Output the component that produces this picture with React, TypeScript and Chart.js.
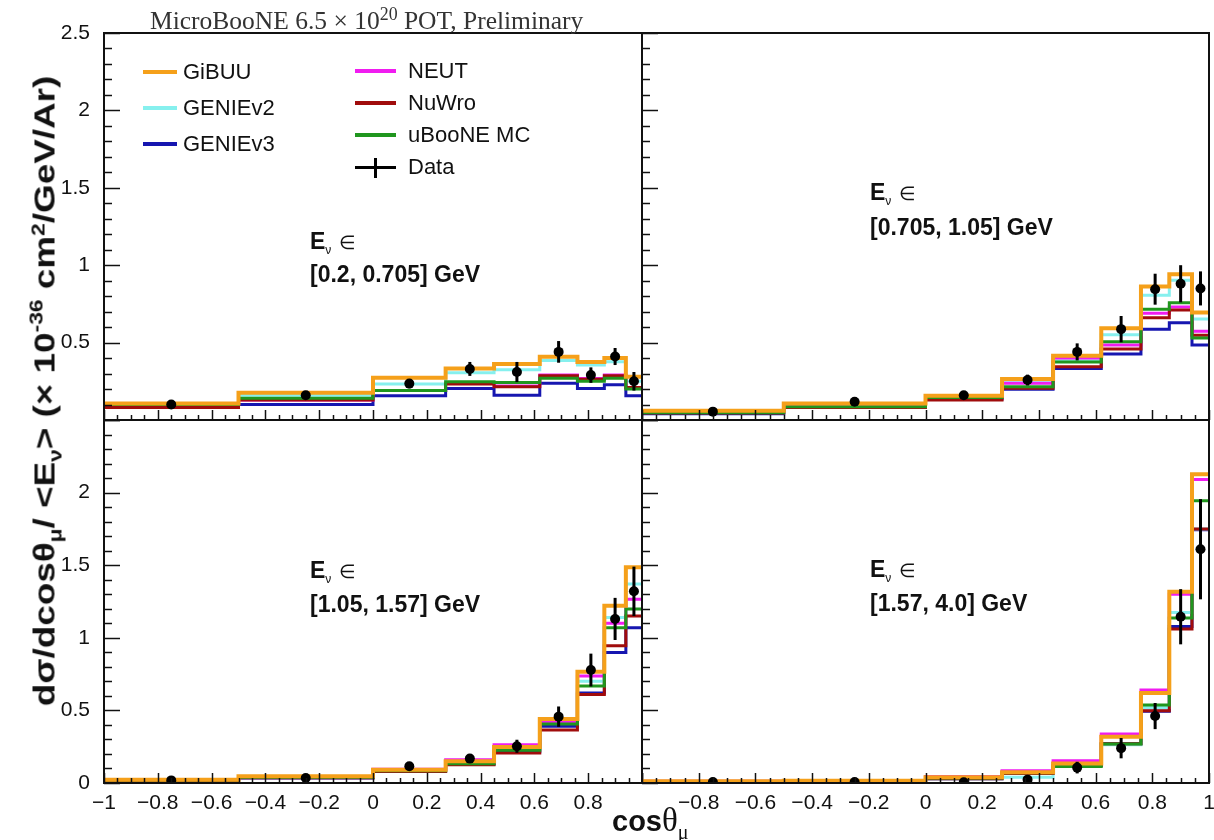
import React, { useEffect, useRef } from 'react';
import { Chart, registerables } from 'chart.js';

Chart.register(...registerables);

// ---------------- data ----------------
const binEdges = [-1, -0.5, 0, 0.27, 0.45, 0.62, 0.76, 0.86, 0.94, 1];
const binCenters = [-0.75, -0.25, 0.135, 0.36, 0.535, 0.69, 0.81, 0.9, 0.97];

const modelNames = ['GiBUU', 'GENIEv2', 'GENIEv3', 'NEUT', 'NuWro', 'uBooNE MC'];
const modelColors = ['#f5a01a', '#86f0ee', '#1616b0', '#f01cf0', '#a00c0c', '#20961e'];

const xTickLabels = ['\u22121', '\u22120.8', '\u22120.6', '\u22120.4', '\u22120.2', '0', '0.2', '0.4', '0.6', '0.8', '1'];
const yTickLabels = ['0', '0.5', '1', '1.5', '2', '2.5'];

// Panel 1: E in [0.2, 0.705] GeV
const gibuu1 = [0.107, 0.176, 0.273, 0.333, 0.361, 0.408, 0.375, 0.4, 0.28];
const genie2_1 = [0.095, 0.16, 0.232, 0.305, 0.325, 0.385, 0.355, 0.376, 0.25];
const genie3_1 = [0.085, 0.1, 0.157, 0.204, 0.16, 0.238, 0.203, 0.228, 0.157];
const neut1 = [0.08, 0.13, 0.19, 0.235, 0.22, 0.29, 0.268, 0.29, 0.205];
const nuwro1 = [0.08, 0.13, 0.19, 0.232, 0.215, 0.286, 0.264, 0.286, 0.21];
const uboone1 = [0.1, 0.14, 0.19, 0.247, 0.243, 0.27, 0.25, 0.27, 0.2];
const data1 = [0.1, 0.16, 0.235, 0.33, 0.31, 0.44, 0.29, 0.41, 0.25];
const err1 = [0.012, 0.015, 0.03, 0.045, 0.065, 0.07, 0.05, 0.055, 0.06];

// Panel 2: E in [0.705, 1.05] GeV
const gibuu2 = [0.06, 0.107, 0.157, 0.265, 0.415, 0.592, 0.862, 0.942, 0.695];
const genie2_2 = [0.05, 0.09, 0.15, 0.24, 0.383, 0.55, 0.806, 0.903, 0.652];
const genie3_2 = [0.04, 0.08, 0.135, 0.198, 0.333, 0.426, 0.587, 0.628, 0.484];
const neut2 = [0.05, 0.085, 0.14, 0.237, 0.4, 0.484, 0.69, 0.73, 0.574];
const nuwro2 = [0.045, 0.08, 0.13, 0.205, 0.344, 0.458, 0.66, 0.71, 0.548];
const uboone2 = [0.047, 0.085, 0.146, 0.215, 0.374, 0.505, 0.715, 0.757, 0.53];
const data2 = [0.054, 0.118, 0.16, 0.258, 0.44, 0.587, 0.845, 0.88, 0.85];
const err2 = [0.008, 0.012, 0.02, 0.035, 0.055, 0.085, 0.1, 0.12, 0.11];

// Panel 3: E in [1.05, 1.57] GeV
const gibuu3 = [0.023, 0.046, 0.092, 0.15, 0.248, 0.44, 0.766, 1.22, 1.486];
const genie2_3 = [0.02, 0.04, 0.085, 0.14, 0.235, 0.425, 0.7, 1.14, 1.37];
const genie3_3 = [0.018, 0.035, 0.08, 0.13, 0.215, 0.39, 0.62, 0.898, 1.069];
const neut3 = [0.022, 0.045, 0.095, 0.16, 0.264, 0.42, 0.737, 1.1, 1.265];
const nuwro3 = [0.018, 0.036, 0.08, 0.125, 0.207, 0.365, 0.61, 0.945, 1.15];
const uboone3 = [0.02, 0.04, 0.085, 0.133, 0.225, 0.406, 0.668, 1.07, 1.198];
const data3 = [0.018, 0.034, 0.115, 0.168, 0.253, 0.457, 0.778, 1.13, 1.32];
const err3 = [0.005, 0.008, 0.015, 0.02, 0.045, 0.07, 0.113, 0.145, 0.17];

// Panel 4: E in [1.57, 4.0] GeV
const gibuu4 = [0.012, 0.016, 0.04, 0.074, 0.135, 0.319, 0.62, 1.318, 2.126];
const genie2_4 = [0.008, 0.012, 0.03, 0.04, 0.12, 0.264, 0.52, 1.175, 1.75];
const genie3_4 = [0.008, 0.012, 0.03, 0.065, 0.12, 0.27, 0.494, 1.077, 1.744];
const neut4 = [0.012, 0.018, 0.045, 0.085, 0.154, 0.337, 0.64, 1.3, 2.09];
const nuwro4 = [0.008, 0.012, 0.03, 0.065, 0.12, 0.27, 0.498, 1.06, 1.75];
const uboone4 = [0.01, 0.014, 0.035, 0.07, 0.113, 0.268, 0.537, 1.136, 1.944];
const data4 = [0.007, 0.007, 0.005, 0.023, 0.106, 0.24, 0.461, 1.145, 1.61];
const err4 = [0.003, 0.004, 0.006, 0.015, 0.04, 0.07, 0.09, 0.19, 0.345];

// ---------------- layout / style ----------------
const W = 1214;
const H = 840;
const YW = 60;
const XH = 40;
const SANS = '"Liberation Sans", Arial, Helvetica, sans-serif';
const SERIF = '"Liberation Serif", "Times New Roman", serif';
const modelWidths = [4, 3, 3, 3, 3, 3];
const modelOrder = [1, 5, 6, 4, 3, 2];

type PanelCfg = {
  key: string;
  frame: { left: number; top: number; right: number; bottom: number };
  models: number[][];
  data: number[];
  err: number[];
  xShown: string[];
  yShown: string[];
};

const panels: PanelCfg[] = [
  {
    key: 'tl',
    frame: { left: 104, top: 33, right: 642, bottom: 420 },
    models: [gibuu1, genie2_1, genie3_1, neut1, nuwro1, uboone1],
    data: data1, err: err1,
    xShown: [],
    yShown: yTickLabels.slice(1),
  },
  {
    key: 'tr',
    frame: { left: 642, top: 33, right: 1211, bottom: 420 },
    models: [gibuu2, genie2_2, genie3_2, neut2, nuwro2, uboone2],
    data: data2, err: err2,
    xShown: [],
    yShown: [],
  },
  {
    key: 'bl',
    frame: { left: 104, top: 420, right: 642, bottom: 783 },
    models: [gibuu3, genie2_3, genie3_3, neut3, nuwro3, uboone3],
    data: data3, err: err3,
    xShown: xTickLabels.slice(0, -1),
    yShown: yTickLabels.slice(0, -1),
  },
  {
    key: 'br',
    frame: { left: 642, top: 420, right: 1211, bottom: 783 },
    models: [gibuu4, genie2_4, genie3_4, neut4, nuwro4, uboone4],
    data: data4, err: err4,
    xShown: xTickLabels.slice(1),
    yShown: [],
  },
];

function fmt(v: number): string {
  const r = Math.round(v * 10) / 10;
  if (r === 0) return '0';
  return r < 0 ? '\u2212' + String(-r) : String(r);
}

function Panel({ cfg }: { cfg: PanelCfg }) {
  const ref = useRef<HTMLCanvasElement>(null);
  useEffect(() => {
    const canvas = ref.current;
    if (!canvas) return;
    const f = cfg.frame;
    const last = binEdges.length - 1;
    const modelDatasets = cfg.models.map((vals, m) => ({
      label: modelNames[m],
      data: [
        ...binEdges.slice(0, last).map((e, i) => ({ x: e, y: vals[i] })),
        { x: binEdges[last], y: vals[vals.length - 1] },
      ],
      borderColor: modelColors[m],
      backgroundColor: modelColors[m],
      borderWidth: modelWidths[m],
      stepped: 'before' as const,
      pointRadius: 0,
      fill: false,
      tension: 0,
      borderCapStyle: 'butt' as const,
      borderJoinStyle: 'miter' as const,
      order: modelOrder[m],
    }));
    const dataDataset = {
      label: 'Data',
      data: binCenters.map((c, i) => ({ x: c, y: cfg.data[i] })),
      showLine: false,
      pointRadius: 5,
      pointBackgroundColor: '#000',
      pointBorderColor: '#000',
      pointBorderWidth: 0,
      borderColor: '#000',
      order: 0,
    };

    const deco = {
      id: 'deco_' + cfg.key,
      afterDatasetsDraw(chart: any) {
        const { ctx } = chart;
        const x = chart.scales.x;
        const y = chart.scales.y;
        ctx.save();
        ctx.strokeStyle = '#000';
        ctx.lineWidth = 3;
        binCenters.forEach((c, i) => {
          const px = x.getPixelForValue(c);
          ctx.beginPath();
          ctx.moveTo(px, y.getPixelForValue(cfg.data[i] - cfg.err[i]));
          ctx.lineTo(px, y.getPixelForValue(cfg.data[i] + cfg.err[i]));
          ctx.stroke();
        });
        ctx.restore();
      },
      afterDraw(chart: any) {
        const { ctx, chartArea: a } = chart;
        const x = chart.scales.x;
        const y = chart.scales.y;
        ctx.save();
        ctx.strokeStyle = '#111';
        ctx.lineWidth = 1.5;
        // x ticks (major 0.2, minor 0.05), pointing inward
        const xs = x.min;
        const nx = Math.round((x.max - x.min) / 0.05);
        for (let i = 0; i <= nx; i++) {
          const px = Math.round(x.getPixelForValue(xs + i * 0.05)) + 0.5;
          const len = i % 4 === 0 ? 10 : 5;
          ctx.beginPath();
          ctx.moveTo(px, a.bottom);
          ctx.lineTo(px, a.bottom - len);
          ctx.stroke();
        }
        // y ticks (major 0.5, minor 0.1)
        const ny = Math.round((y.max - y.min) / 0.1);
        for (let i = 0; i <= ny; i++) {
          const py = Math.round(y.getPixelForValue(y.min + i * 0.1)) + 0.5;
          const len = i % 5 === 0 ? 16 : 8;
          ctx.beginPath();
          ctx.moveTo(a.left, py);
          ctx.lineTo(a.left + len, py);
          ctx.stroke();
        }
        ctx.lineWidth = 2;
        ctx.strokeStyle = '#111';
        ctx.strokeRect(a.left, a.top, a.right - a.left, a.bottom - a.top);
        ctx.restore();
      },
    };

    const chart = new Chart(canvas, {
      type: 'line',
      data: { datasets: [...modelDatasets, dataDataset] as any },
      options: {
        animation: false,
        responsive: false,
        events: [],
        layout: {
          padding: {
            left: f.left - YW,
            right: W - f.right,
            top: f.top,
            bottom: H - f.bottom - XH,
          },
        },
        plugins: {
          legend: { display: false },
          tooltip: { enabled: false },
        },
        scales: {
          x: {
            type: 'linear',
            min: -1,
            max: 1,
            grid: { display: false },
            border: { display: false },
            ticks: {
              stepSize: 0.2,
              autoSkip: false,
              maxRotation: 0,
              minRotation: 0,
              padding: 0,
              color: '#111',
              font: { family: SANS, size: 21 },
              callback: (v: any) => {
                const s = fmt(Number(v));
                return cfg.xShown.includes(s) ? s : '';
              },
            },
            afterFit: (s: any) => {
              s.height = XH;
              s.paddingLeft = 0;
              s.paddingRight = 0;
            },
          },
          y: {
            type: 'linear',
            min: 0,
            max: 2.5,
            grid: { display: false },
            border: { display: false },
            ticks: {
              stepSize: 0.5,
              autoSkip: false,
              padding: 6,
              color: '#111',
              font: { family: SANS, size: 21 },
              callback: (v: any) => {
                const s = fmt(Number(v));
                return cfg.yShown.includes(s) ? s : '';
              },
            },
            afterFit: (s: any) => {
              s.width = YW;
              s.paddingTop = 0;
              s.paddingBottom = 0;
            },
          },
        },
      } as any,
      plugins: [deco],
    });
    return () => chart.destroy();
  }, [cfg]);
  return (
    <canvas
      ref={ref}
      width={W}
      height={H}
      style={{ position: 'absolute', left: 0, top: 0, width: W, height: H }}
    />
  );
}

const legendLeft = [
  { m: 0, y: 72 },
  { m: 1, y: 108 },
  { m: 2, y: 144 },
];
const legendRight = [
  { m: 3, y: 71 },
  { m: 4, y: 103 },
  { m: 5, y: 135 },
];

const annotations = [
  { x: 310, y1: 241, y2: 274, text: '[0.2, 0.705] GeV' },
  { x: 870, y1: 192, y2: 227, text: '[0.705, 1.05] GeV' },
  { x: 310, y1: 570, y2: 604, text: '[1.05, 1.57] GeV' },
  { x: 870, y1: 569, y2: 603, text: '[1.57, 4.0] GeV' },
];

function Txt({ x, y, size, children, style }: any) {
  return (
    <div
      style={{
        position: 'absolute',
        left: x,
        top: y - size / 2,
        fontSize: size,
        lineHeight: 1,
        fontFamily: SANS,
        whiteSpace: 'nowrap',
        color: '#111',
        ...style,
      }}
    >
      {children}
    </div>
  );
}

export default function App() {
  return (
    <div
      style={{
        position: 'fixed',
        left: 0,
        top: 0,
        width: W,
        height: H,
        background: '#fff',
        overflow: 'hidden',
      }}
    >
      {panels.map((p) => (
        <Panel key={p.key} cfg={p} />
      ))}

      {/* title */}
      <div
        style={{
          position: 'absolute',
          left: 150,
          top: 8,
          fontFamily: SERIF,
          fontSize: 25.5,
          lineHeight: 1,
          color: '#333',
          whiteSpace: 'nowrap',
        }}
      >
        MicroBooNE 6.5 × 10
        <span style={{ fontSize: '0.7em', position: 'relative', top: '-0.5em' }}>20</span> POT, Preliminary
      </div>

      {/* legend */}
      {legendLeft.map((l) => (
        <React.Fragment key={modelNames[l.m]}>
          <div
            style={{
              position: 'absolute',
              left: 143,
              top: l.y - 2,
              width: 34,
              height: 4,
              background: modelColors[l.m],
            }}
          />
          <Txt x={183} y={l.y} size={22}>
            {modelNames[l.m]}
          </Txt>
        </React.Fragment>
      ))}
      {legendRight.map((l) => (
        <React.Fragment key={modelNames[l.m]}>
          <div
            style={{
              position: 'absolute',
              left: 355,
              top: l.y - 2,
              width: 41,
              height: 4,
              background: modelColors[l.m],
            }}
          />
          <Txt x={408} y={l.y} size={22}>
            {modelNames[l.m]}
          </Txt>
        </React.Fragment>
      ))}
      <div style={{ position: 'absolute', left: 355, top: 166, width: 41, height: 3, background: '#000' }} />
      <div style={{ position: 'absolute', left: 374, top: 158, width: 3, height: 20, background: '#000' }} />
      <Txt x={408} y={167} size={22}>
        Data
      </Txt>

      {/* panel annotations */}
      {annotations.map((a) => (
        <React.Fragment key={a.text}>
          <Txt x={a.x} y={a.y1} size={23} style={{ fontWeight: 'bold' }}>
            E
            <span style={{ fontSize: 12, fontWeight: 'normal', position: 'relative', top: 5 }}>ν</span>
            <span style={{ fontSize: 19, fontWeight: 'normal', marginLeft: 8 }}>∈</span>
          </Txt>
          <Txt x={a.x} y={a.y2} size={23} style={{ fontWeight: 'bold' }}>
            {a.text}
          </Txt>
        </React.Fragment>
      ))}

      {/* y axis title */}
      <div
        style={{
          position: 'absolute',
          left: 45,
          top: 391,
          transform: 'translate(-50%, -50%) rotate(-90deg) scaleX(1.27)',
          fontFamily: SANS,
          fontWeight: 'bold',
          fontSize: 29,
          lineHeight: 1,
          whiteSpace: 'nowrap',
          color: '#111',
        }}
      >
        dσ/dcosθ
        <span style={{ fontSize: 18, position: 'relative', top: 7 }}>μ</span>/ &lt;E
        <span style={{ fontSize: 18, position: 'relative', top: 7 }}>ν</span>&gt; (× 10
        <span style={{ fontSize: 18, position: 'relative', top: -12 }}>-36</span> cm
        <span style={{ fontSize: 18, position: 'relative', top: -10 }}>2</span>/GeV/Ar)
      </div>

      {/* x axis title */}
      <div
        style={{
          position: 'absolute',
          left: 612,
          top: 804,
          fontFamily: SANS,
          fontWeight: 'bold',
          fontSize: 29,
          lineHeight: 1,
          whiteSpace: 'nowrap',
          color: '#111',
        }}
      >
        cos
        <span style={{ fontFamily: SERIF, fontWeight: 'normal', fontSize: 33 }}>θ</span>
        <span style={{ fontFamily: SERIF, fontWeight: 'normal', fontSize: 20, position: 'relative', top: 8 }}>μ</span>
      </div>
    </div>
  );
}
